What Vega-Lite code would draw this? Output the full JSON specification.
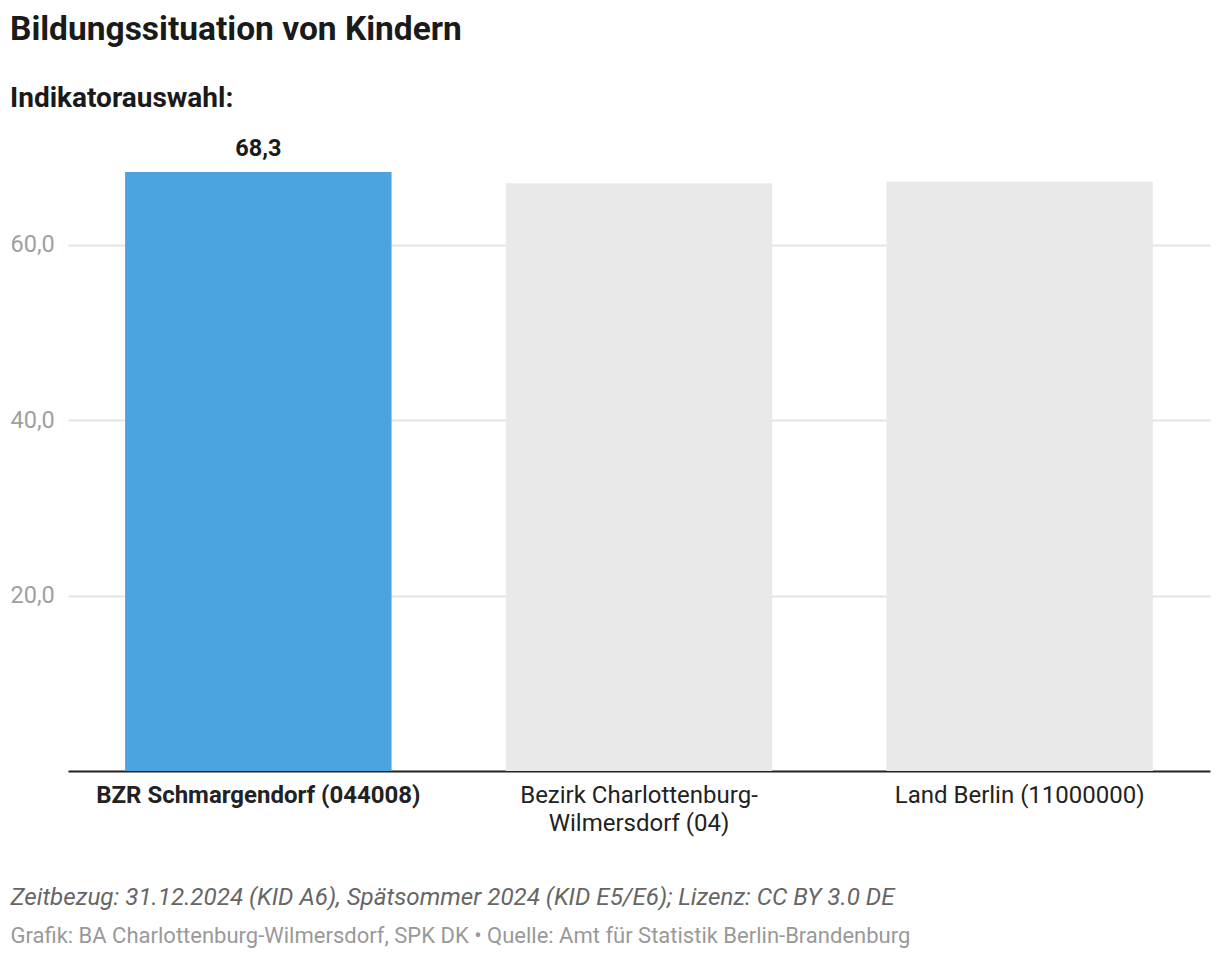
{
  "$schema": "https://vega.github.io/schema/vega-lite/v6.json",
  "width": 1142,
  "height": 614,
  "autosize": {"type": "none"},
  "padding": {"left": 68, "top": 157, "right": 10, "bottom": 187},
  "background": "white",
  "config": {
    "font": "Roboto",
    "view": {"stroke": null},
    "locale": {"number": {"decimal": ",", "thousands": ".", "grouping": [3], "currency": ["", " €"]}}
  },
  "title": {
    "text": "Bildungssituation von Kindern",
    "subtitle": "Indikatorauswahl:",
    "anchor": "start",
    "frame": "group",
    "dx": -58,
    "offset": 23,
    "fontSize": 33.5,
    "fontWeight": "bold",
    "color": "#1a1a1a",
    "subtitleFontSize": 28,
    "subtitleFontWeight": "bold",
    "subtitleColor": "#1a1a1a",
    "subtitlePadding": 37
  },
  "data": {
    "values": [
      {"name": "BZR Schmargendorf (044008)", "value": 68.3, "highlight": true},
      {"name": "Bezirk Charlottenburg-Wilmersdorf (04)", "value": 67.0, "highlight": false},
      {"name": "Land Berlin (11000000)", "value": 67.2, "highlight": false}
    ]
  },
  "encoding": {
    "x": {
      "field": "name",
      "type": "nominal",
      "sort": null,
      "scale": {"paddingInner": 0.3, "paddingOuter": 0.15},
      "axis": {
        "domainColor": "#222222",
        "domainWidth": 2,
        "ticks": false,
        "labelAngle": 0,
        "labelFontSize": 24,
        "labelColor": "#222222",
        "labelPadding": 12,
        "labelLimit": 500,
        "labelLineHeight": 28,
        "labelBaseline": "top",
        "labelFontWeight": {"condition": {"test": "datum.value == 'BZR Schmargendorf (044008)'", "value": "bold"}, "value": "normal"},
        "labelExpr": "datum.value == 'Bezirk Charlottenburg-Wilmersdorf (04)' ? ['Bezirk Charlottenburg-', 'Wilmersdorf (04)'] : datum.label",
        "title": "Grafik: BA Charlottenburg-Wilmersdorf, SPK DK • Quelle: Amt für Statistik Berlin-Brandenburg",
        "titleFontSize": 22,
        "titleFontWeight": "normal",
        "titleColor": "#999999",
        "titleAlign": "left",
        "titleBaseline": "middle",
        "titleX": -58,
        "titleY": 164
      }
    },
    "y": {
      "field": "value",
      "type": "quantitative",
      "scale": {"domain": [0, 70]},
      "axis": {
        "values": [20, 40, 60],
        "format": ".1f",
        "domain": false,
        "ticks": false,
        "tickSize": 0,
        "grid": true,
        "gridColor": "#e3e3e3",
        "gridWidth": 2,
        "labelAlign": "left",
        "labelBaseline": "middle",
        "labelPadding": 58,
        "labelFontSize": 23.5,
        "labelColor": "#a0a0a0",
        "title": "Zeitbezug: 31.12.2024 (KID A6), Spätsommer 2024 (KID E5/E6); Lizenz: CC BY 3.0 DE",
        "titleAngle": 0,
        "titleFontSize": 24.2,
        "titleFontWeight": "normal",
        "titleFontStyle": "italic",
        "titleColor": "#666666",
        "titleAlign": "left",
        "titleBaseline": "middle",
        "titleX": -58,
        "titleY": 740
      }
    }
  },
  "layer": [
    {
      "mark": {"type": "bar"},
      "encoding": {
        "color": {"condition": {"test": "datum.highlight", "value": "#4ba3df"}, "value": "#e9e9e9"}
      }
    },
    {
      "transform": [{"filter": "datum.highlight"}],
      "mark": {"type": "text", "baseline": "bottom", "dy": -11, "fontSize": 23.5, "fontWeight": "bold", "color": "#1a1a1a"},
      "encoding": {"text": {"field": "value", "type": "quantitative", "format": ".1f"}}
    }
  ]
}
